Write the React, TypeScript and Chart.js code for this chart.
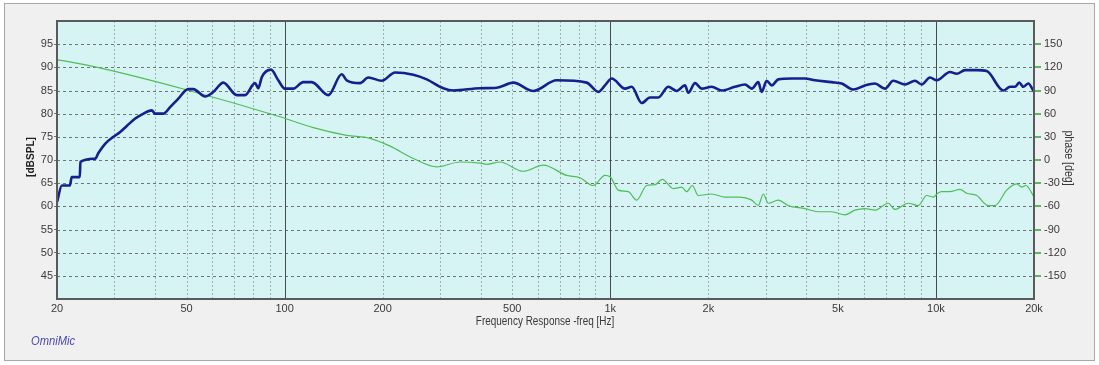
import React, { useEffect, useRef } from "react";
import { Chart, registerables } from "chart.js";
Chart.register(...registerables);

// ---- data ----
const SPL_FREQ = [20, 20.7, 21.9, 22.2, 23.5, 23.6, 26.2, 26.8, 28.1, 29.8, 31.2, 32.7, 34.7, 36.4, 39.1, 40, 42.4, 44.5, 47.1, 50.6, 52.4, 57, 60.4, 64.8, 71.3, 75.6, 81.1, 83, 85.1, 90.8, 95.6, 100.2, 106.3, 114.1, 121.1, 136.2, 149.7, 155.1, 170.4, 180.7, 198.6, 218.3, 248.4, 273.1, 307.1, 329.6, 398, 447.9, 503.7, 580.1, 684.5, 846.3, 918.7, 963, 1010, 1110, 1163, 1249, 1324, 1404, 1507, 1599, 1696, 1736, 1820, 1908, 2048, 2198, 2415, 2592, 2718, 2847, 2916, 3021, 3130, 3280, 3606, 3961, 4251, 4784, 5135, 5573, 6053, 6497, 6973, 7395, 8033, 8622, 9038, 9585, 10050, 11040, 11580, 12280, 13340, 14310, 16100, 16880, 17480, 18020, 18540, 19210, 20000];
const SPL_DB = [60.9, 64.5, 64.5, 66.3, 66.3, 69.6, 70.3, 71.5, 73.5, 75, 76, 77.3, 78.9, 79.8, 80.7, 80, 80, 81.4, 83.2, 85.3, 85.3, 83.7, 84.7, 86.7, 84, 84, 86.6, 85.5, 87.9, 89.5, 87.2, 85.4, 85.4, 86.8, 86.8, 84, 88.5, 87.2, 86.6, 87.8, 87.1, 88.9, 88.4, 87.4, 85.5, 85.0, 85.5, 85.6, 86.7, 84.9, 87.2, 86.7, 84.7, 86.1, 87.6, 85.4, 85.8, 82.3, 83.5, 83.5, 85.8, 84.9, 86.1, 84.5, 86.6, 85.4, 85.8, 85, 85.8, 86.3, 85.4, 86.8, 84.7, 87.1, 86.1, 87.4, 87.6, 87.6, 87.2, 86.8, 86.5, 85.2, 86.1, 86.5, 85.4, 87.1, 86.3, 87.1, 86.3, 87.8, 87.2, 89.0, 88.6, 89.4, 89.4, 89.2, 85.0, 85.8, 85.8, 86.7, 85.8, 86.5, 84.7];

const PHASE_FREQ = [20, 26.2, 48.9, 96.8, 122.5, 155.1, 182.9, 210.7, 248.4, 293.1, 345.6, 398, 417.3, 458.5, 540.6, 622.6, 734.7, 807, 886.7, 963.2, 1000, 1058, 1136, 1205, 1293, 1372, 1444, 1561, 1657, 1716, 1785, 1863, 2048, 2250, 2472, 2718, 2847, 2950, 3056, 3280, 3520, 3961, 4352, 4784, 5256, 5641, 6053, 6497, 7138, 7484, 8222, 8824, 9365, 9813, 10130, 10410, 11040, 11850, 12430, 13340, 14470, 15180, 16490, 17690, 18340, 18900, 20000];
const PHASE_DEG = [130, 120.6, 92, 56, 42, 32, 28, 18, 2, -9, -2.6, -4, -5.6, -2.6, -14.6, -6.6, -20, -23, -33, -20, -22, -39, -41, -52, -33, -32, -25, -37, -35, -41, -33, -46, -44, -48, -48, -52, -59, -44, -56, -52, -59, -63, -67, -67, -71, -65, -63, -65, -56, -64, -56, -59, -46, -48, -43, -41, -41, -38, -43, -46, -59, -59, -39, -31, -35, -33, -48];

const X_LABEL_TICKS = [20, 50, 100, 200, 500, 1000, 2000, 5000, 10000, 20000];
const X_LABELS = ["20", "50", "100", "200", "500", "1k", "2k", "5k", "10k", "20k"];
const X_MINOR_GRID = [30, 40, 50, 60, 70, 80, 90, 200, 300, 400, 500, 600, 700, 800, 900, 2000, 3000, 4000, 5000, 6000, 7000, 8000, 9000];
const X_MAJOR_GRID = [100, 1000, 10000];
const SPL_GRID = [45, 50, 55, 60, 65, 70, 75, 80, 85, 90, 95];

const FONT = "'Liberation Sans', Arial, sans-serif";
const TEXT = "#3a3a3a";

function condensedText(ctx: any, text: string, x: number, y: number, sx: number) {
  ctx.save();
  ctx.translate(x, y);
  ctx.scale(sx, 1);
  ctx.fillText(text, 0, 0);
  ctx.restore();
}

const gridPlugin = {
  id: "gridPlugin",
  beforeDraw(chart: any) {
    const { ctx, chartArea: a } = chart;
    ctx.save();
    ctx.fillStyle = "#d7f4f4";
    ctx.fillRect(a.left, a.top, a.right - a.left, a.bottom - a.top);
    ctx.restore();
  },
  beforeDatasetsDraw(chart: any) {
    const { ctx, chartArea: a, scales } = chart;
    const x = scales.x, y = scales.y;
    ctx.save();
    ctx.lineWidth = 1;
    ctx.strokeStyle = "#a3b0b0";
    ctx.setLineDash([2, 2]);
    X_MINOR_GRID.forEach((f) => {
      const px = Math.round(x.getPixelForValue(f)) + 0.5;
      ctx.beginPath();
      ctx.moveTo(px, a.top);
      ctx.lineTo(px, a.bottom);
      ctx.stroke();
    });
    ctx.strokeStyle = "#6f7676";
    ctx.setLineDash([3, 3]);
    SPL_GRID.forEach((v) => {
      const py = Math.round(y.getPixelForValue(v)) + 0.5;
      ctx.beginPath();
      ctx.moveTo(a.left, py);
      ctx.lineTo(a.right, py);
      ctx.stroke();
    });
    ctx.setLineDash([]);
    ctx.strokeStyle = "#4a4a4a";
    X_MAJOR_GRID.forEach((f) => {
      const px = Math.round(x.getPixelForValue(f)) + 0.5;
      ctx.beginPath();
      ctx.moveTo(px, a.top);
      ctx.lineTo(px, a.bottom);
      ctx.stroke();
    });
    ctx.restore();
  },
  afterDraw(chart: any) {
    const { ctx, chartArea: a } = chart;
    ctx.save();
    ctx.strokeStyle = "#5a5a5a";
    ctx.lineWidth = 2;
    ctx.strokeRect(a.left, a.top, a.right - a.left, a.bottom - a.top);
    ctx.fillStyle = TEXT;
    ctx.textAlign = "center";
    ctx.textBaseline = "middle";
    ctx.font = `12px ${FONT}`;
    condensedText(ctx, "Frequency Response -freq [Hz]", 545, 322, 0.83);
    ctx.save();
    ctx.translate(31, 157);
    ctx.rotate(-Math.PI / 2);
    ctx.font = `bold 11px ${FONT}`;
    ctx.fillStyle = "#222";
    condensedText(ctx, "[dBSPL]", 0, 0, 0.92);
    ctx.restore();
    ctx.save();
    ctx.translate(1068, 158);
    ctx.rotate(Math.PI / 2);
    ctx.font = `12px ${FONT}`;
    condensedText(ctx, "phase [deg]", 0, 0, 0.88);
    ctx.restore();
    ctx.font = `italic 12px ${FONT}`;
    ctx.fillStyle = "#4b4bb0";
    ctx.textAlign = "left";
    condensedText(ctx, "OmniMic", 31, 342, 0.93);
    ctx.restore();
  },
};

export default function App() {
  const ref = useRef<HTMLCanvasElement>(null);
  useEffect(() => {
    const chart = new Chart(ref.current!, {
      type: "line",
      data: {
        datasets: [
          {
            data: SPL_FREQ.map((f, i) => ({ x: f, y: SPL_DB[i] })),
            yAxisID: "y",
            borderColor: "#14208e",
            borderWidth: 2.6,
            pointRadius: 0,
            cubicInterpolationMode: "monotone",
          },
          {
            data: PHASE_FREQ.map((f, i) => ({ x: f, y: PHASE_DEG[i] })),
            yAxisID: "y2",
            borderColor: "#4cbf58",
            borderWidth: 1.2,
            pointRadius: 0,
            cubicInterpolationMode: "monotone",
          },
        ],
      },
      options: {
        animation: false,
        responsive: false,
        devicePixelRatio: 1,
        layout: { padding: { top: 21, left: 0, right: 0, bottom: 0 } },
        plugins: { legend: { display: false }, tooltip: { enabled: false } },
        scales: {
          x: {
            type: "logarithmic",
            min: 20,
            max: 20000,
            afterBuildTicks: (s: any) => {
              s.ticks = X_LABEL_TICKS.map((v) => ({ value: v }));
            },
            afterFit: (s: any) => {
              s.height = 66;
            },
            grid: { display: false, drawTicks: false },
            border: { display: false },
            ticks: {
              autoSkip: false,
              maxRotation: 0,
              padding: 3,
              color: TEXT,
              font: { family: FONT, size: 11 },
              callback: (v: any) => {
                const i = X_LABEL_TICKS.indexOf(Number(v));
                return i >= 0 ? X_LABELS[i] : "";
              },
            },
          },
          y: {
            type: "linear",
            position: "left",
            min: 40,
            max: 100,
            afterFit: (s: any) => {
              s.width = 57;
            },
            grid: {
              display: true,
              drawOnChartArea: false,
              drawTicks: true,
              tickLength: 3,
              color: (c: any) => (c.tick && (c.tick.value === 40 || c.tick.value === 100) ? "rgba(0,0,0,0)" : "#777"),
            },
            border: { display: false },
            ticks: {
              stepSize: 5,
              padding: 1,
              color: TEXT,
              font: { family: FONT, size: 11 },
              callback: (v: any) => (v === 40 || v === 100 ? "" : String(v)),
            },
          },
          y2: {
            type: "linear",
            position: "right",
            min: -180,
            max: 180,
            afterFit: (s: any) => {
              s.width = 65;
            },
            grid: {
              display: true,
              drawOnChartArea: false,
              drawTicks: true,
              tickLength: 7,
              lineWidth: 2,
              color: (c: any) => (c.tick && (c.tick.value === -180 || c.tick.value === 180) ? "rgba(0,0,0,0)" : "#5cb85c"),
            },
            border: { display: false },
            ticks: {
              stepSize: 30,
              padding: 3,
              color: TEXT,
              font: { family: FONT, size: 11 },
              callback: (v: any) => (v === -180 || v === 180 ? "" : String(v)),
            },
          },
        },
      },
      plugins: [gridPlugin],
    } as any);
    return () => chart.destroy();
  }, []);
  return (
    <div style={{ position: "fixed", left: 0, top: 0, width: 1099, height: 365, background: "#ffffff" }}>
      <div
        style={{
          position: "absolute",
          left: 4,
          top: 3,
          width: 1089,
          height: 356,
          border: "1px solid #a8a8a8",
          background: "#f0f0f0",
        }}
      />
      <canvas
        ref={ref}
        width={1099}
        height={365}
        style={{ position: "absolute", left: 0, top: 0, width: 1099, height: 365 }}
      />
    </div>
  );
}
